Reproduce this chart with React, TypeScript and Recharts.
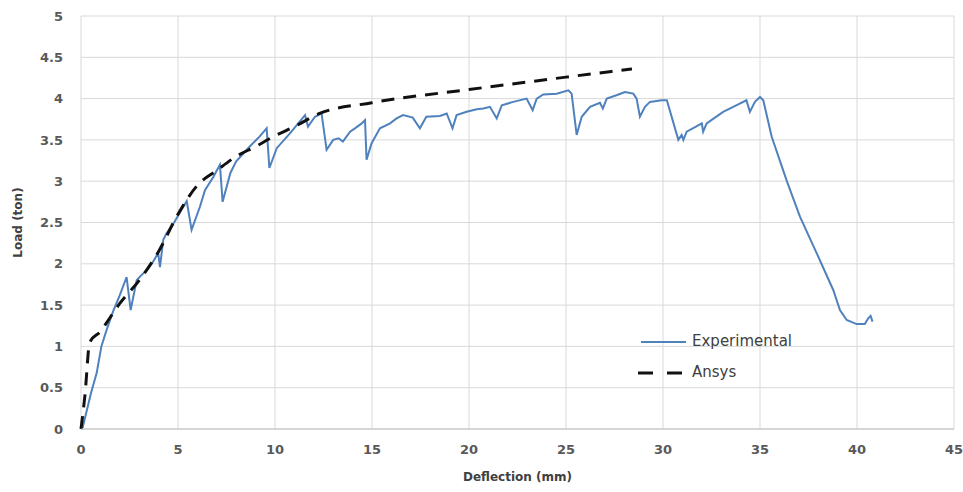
import {
  LineChart,
  Line,
  XAxis,
  YAxis,
  CartesianGrid,
} from 'recharts';

// Experimental load–deflection curve
const expDeflection = [
  0, 0.09, 0.5, 0.81, 1.05, 1.32, 1.65, 2.0, 2.35, 2.56, 2.87, 3.1, 3.38, 3.7,
  3.98, 4.07, 4.24, 4.41, 4.8, 5.1, 5.45, 5.7, 6.13, 6.39, 6.82, 7.16, 7.3, 7.7,
  8.0, 8.7, 9.2, 9.57, 9.71, 10.09, 10.77, 11.55, 11.7, 12.06, 12.4, 12.66, 13.0,
  13.27, 13.5, 13.87, 14.12, 14.47, 14.64, 14.72, 14.98, 15.41, 15.93, 16.27,
  16.6, 17.1, 17.47, 17.8, 18.5, 18.85, 19.15, 19.36, 19.88, 20.4, 20.74, 21.08,
  21.43, 21.69, 22.28, 22.97, 23.28, 23.49, 23.83, 24.52, 25.12, 25.29, 25.55,
  25.81, 26.24, 26.75, 26.9, 27.1, 27.6, 28.04, 28.47, 28.64, 28.81, 29.07,
  29.33, 29.93, 30.2, 30.79, 30.96, 31.05, 31.22, 31.7, 32.0, 32.07, 32.25, 33.1,
  33.8, 34.3, 34.48, 34.74, 35.0, 35.17, 35.6, 36.37, 37.06, 37.92, 38.78, 39.12,
  39.47, 39.98, 40.4, 40.58, 40.7, 40.8,
];
const expLoad = [
  0, 0.02, 0.42, 0.68, 1.0, 1.2, 1.42, 1.62, 1.84, 1.44, 1.8, 1.86, 1.92, 2.02,
  2.13, 1.96, 2.29, 2.37, 2.5, 2.62, 2.76, 2.41, 2.69, 2.89, 3.05, 3.2, 2.75, 3.1,
  3.24, 3.42, 3.54, 3.64, 3.16, 3.4, 3.58, 3.8, 3.66, 3.78, 3.82, 3.38, 3.5,
  3.52, 3.48, 3.6, 3.64, 3.7, 3.74, 3.26, 3.46, 3.64, 3.7, 3.76,
  3.8, 3.77, 3.64, 3.78, 3.79, 3.82, 3.64, 3.8, 3.84, 3.87, 3.88, 3.9,
  3.76, 3.92, 3.96, 4.0, 3.86, 4.0, 4.05, 4.06, 4.1, 4.06, 3.56,
  3.78, 3.9, 3.95, 3.88, 4.0, 4.04, 4.08, 4.06, 4.0, 3.78, 3.9,
  3.96, 3.98, 3.98, 3.5, 3.56, 3.5, 3.6, 3.66, 3.7, 3.6, 3.7, 3.84,
  3.92, 3.98, 3.84, 3.96, 4.02, 3.98, 3.54, 3.01, 2.57, 2.13, 1.68, 1.44,
  1.32, 1.27, 1.27, 1.34, 1.37, 1.3,
];

// Ansys prediction
const ansysDeflection = [0, 0.2, 0.45, 1.0, 1.5, 2.0, 3.0, 4.0, 5.0, 6.0, 7.0, 8.0, 9.0, 10.0, 11.0, 12.3, 15.0, 20.0, 25.0, 28.4];
const ansysLoad = [0, 0.4, 1.05, 1.18, 1.35, 1.52, 1.8, 2.15, 2.6, 2.95, 3.13, 3.3, 3.42, 3.55, 3.66, 3.82, 3.95, 4.11, 4.26, 4.36];

const xTicks = [0, 5, 10, 15, 20, 25, 30, 35, 40, 45];
const yTicks = [0, 0.5, 1, 1.5, 2, 2.5, 3, 3.5, 4, 4.5, 5];

const experimental = expDeflection.map((x, i) => ({ x, y: expLoad[i] }));
const ansys = ansysDeflection.map((x, i) => ({ x, y: ansysLoad[i] }));

const FONT = '"DejaVu Sans", Verdana, sans-serif';
const tickStyle = { fill: '#595959', fontSize: 13, fontWeight: 700, fontFamily: FONT };

// Excel-style legend floating inside the plot (kept out of Recharts' layout so it
// doesn't shrink the plot area)
function ChartLegend() {
  return (
    <div
      style={{
        position: 'absolute',
        left: 636,
        top: 326,
        fontFamily: FONT,
        fontSize: 15,
        color: '#404040',
        lineHeight: '31px',
      }}
    >
      <div style={{ display: 'flex', alignItems: 'center' }}>
        <svg width={56} height={10}>
          <line x1={5} x2={50} y1={5} y2={5} stroke="#4f81bd" strokeWidth={2} />
        </svg>
        <span>Experimental</span>
      </div>
      <div style={{ display: 'flex', alignItems: 'center' }}>
        <svg width={56} height={10}>
          <line x1={2} x2={47} y1={5} y2={5} stroke="#111" strokeWidth={3} strokeDasharray="15 14" />
        </svg>
        <span>Ansys</span>
      </div>
    </div>
  );
}

export default function App() {
  return (
    <div style={{ position: 'absolute', left: 0, top: 0, background: '#fff', fontFamily: FONT }}>
      <LineChart
        width={963}
        height={492}
        margin={{ top: 16, right: 9, left: 6, bottom: 7 }}
      >
        <CartesianGrid stroke="#d9d9d9" strokeWidth={1} />
        <XAxis
          type="number"
          dataKey="x"
          domain={[0, 45]}
          ticks={xTicks}
          height={56}
          tick={tickStyle}
          tickLine={false}
          tickMargin={10}
          axisLine={{ stroke: '#bfbfbf' }}
          label={{
            value: 'Deflection (mm)',
            position: 'insideBottom',
            offset: 4,
            style: { fill: '#404040', fontSize: 12, fontWeight: 700, fontFamily: FONT },
          }}
        />
        <YAxis
          type="number"
          dataKey="y"
          domain={[0, 5]}
          ticks={yTicks}
          width={75}
          tick={tickStyle}
          tickLine={false}
          tickMargin={12}
          axisLine={false}
          label={{
            value: 'Load (ton)',
            angle: -90,
            position: 'insideLeft',
            offset: 12,
            style: { textAnchor: 'middle', fill: '#404040', fontSize: 12, fontWeight: 700, fontFamily: FONT },
          }}
        />
        <Line
          data={experimental}
          dataKey="y"
          name="Experimental"
          type="linear"
          stroke="#4f81bd"
          strokeWidth={2}
          dot={false}
          isAnimationActive={false}
        />
        <Line
          data={ansys}
          dataKey="y"
          name="Ansys"
          type="monotone"
          stroke="#111"
          strokeWidth={3}
          strokeDasharray="13 9"
          dot={false}
          isAnimationActive={false}
        />
      </LineChart>
      <ChartLegend />
    </div>
  );
}
